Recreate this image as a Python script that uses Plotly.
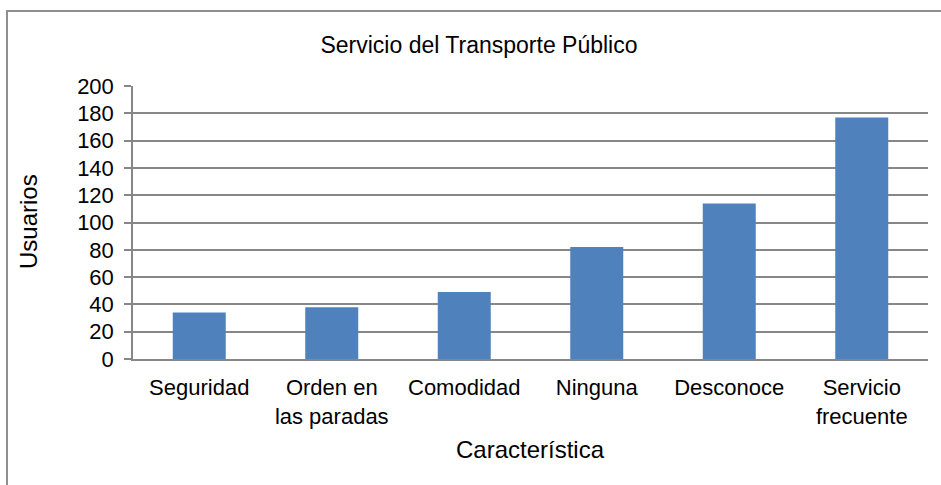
import plotly.graph_objects as go

categories = ["Seguridad", "Orden en<br>las paradas", "Comodidad", "Ninguna", "Desconoce", "Servicio<br>frecuente"]
usuarios = [34, 38, 49, 82, 114, 177]
y_ticks = [0, 20, 40, 60, 80, 100, 120, 140, 160, 180, 200]

FONT = "Liberation Sans, Arial, sans-serif"
GRID = "#878787"

fig = go.Figure(
    go.Bar(x=categories, y=usuarios, marker=dict(color="#4F81BD", line=dict(width=0)))
)

W, H = 941, 485
L, R, T, B = 133, 13, 86, 126
pw, ph = W - L - R, H - T - B

fig.update_layout(
    width=W, height=H,
    margin=dict(l=L, r=R, t=T, b=B),
    paper_bgcolor="white", plot_bgcolor="white",
    bargap=0.6,
    showlegend=False,
    font=dict(family=FONT, color="black"),
    title=dict(text="Servicio del Transporte Público", x=479 / W, xanchor="center",
               y=1 - 45 / H, yanchor="middle", font=dict(size=23, family=FONT, color="black")),
    xaxis=dict(
        showline=True, linecolor=GRID, linewidth=1.5,
        showgrid=False, ticks="", tickfont=dict(size=22), ticklabelstandoff=8,
    ),
    yaxis=dict(
        range=[0, 200], tickvals=y_ticks, showline=True, linecolor=GRID, linewidth=1.5,
        showgrid=True, gridcolor=GRID, gridwidth=1.5,
        ticks="outside", ticklen=7, tickcolor=GRID, tickwidth=1.5,
        tickfont=dict(size=22), ticklabelstandoff=6,
        zeroline=False,
    ),
    annotations=[
        dict(text="Característica", xref="paper", yref="paper",
             x=(530 - L) / pw, y=(H - B - 449) / ph, xanchor="center", yanchor="middle",
             showarrow=False, font=dict(size=24)),
        dict(text="Usuarios", xref="paper", yref="paper", textangle=-90,
             x=(28 - L) / pw, y=(H - B - 222) / ph, xanchor="center", yanchor="middle",
             showarrow=False, font=dict(size=24)),
    ],
    shapes=[dict(
        type="rect", xref="paper", yref="paper",
        x0=(7 - L) / pw, x1=(960 - L) / pw,
        y0=(H - B - 500) / ph, y1=(H - B - 11) / ph,
        line=dict(color="#8f8f8f", width=2), fillcolor="rgba(0,0,0,0)", layer="below",
    )],
)

fig.write_html("out.html", config={"displayModeBar": False},
               post_script="document.body.style.margin='0';document.body.style.padding='0';")
